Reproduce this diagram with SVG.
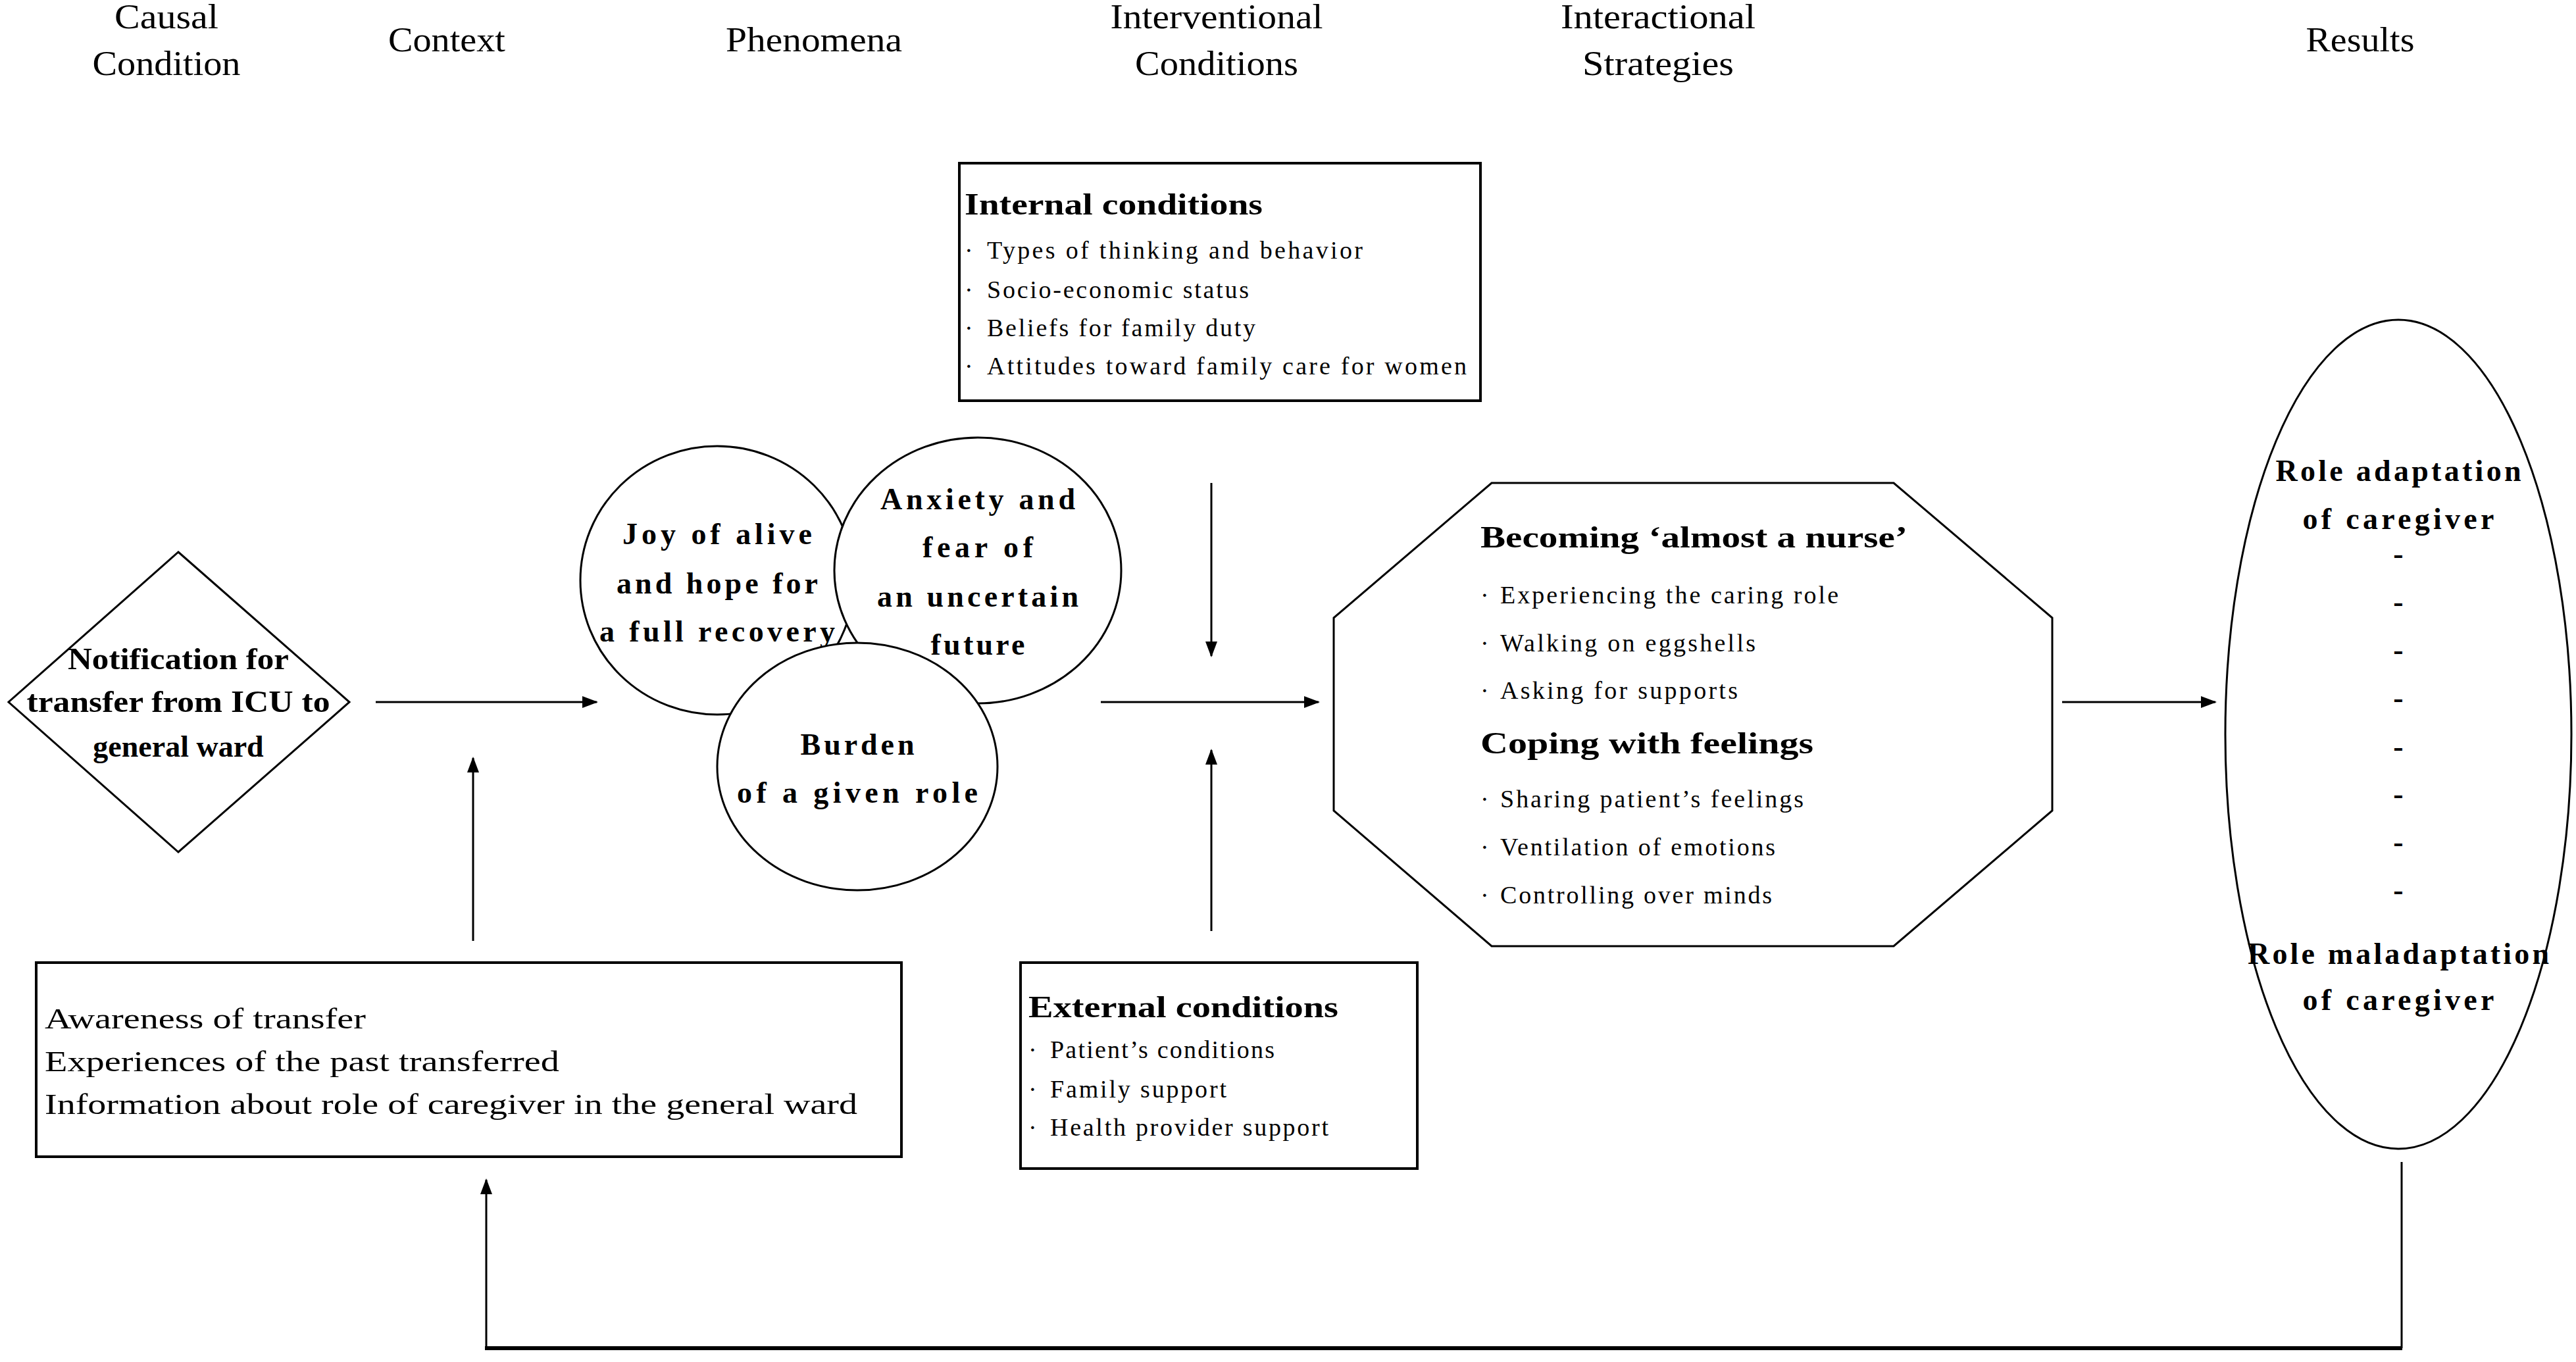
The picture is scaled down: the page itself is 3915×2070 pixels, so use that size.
<svg xmlns="http://www.w3.org/2000/svg" width="3915" height="2070" viewBox="0 0 3915 2070">
<style>
text{font-family:"Liberation Serif","DejaVu Serif",serif;fill:#000}
.hd{font-size:52px}
.ti{font-size:46px;font-weight:bold}
.it{font-size:38px}
.bd{font-size:46px;font-weight:bold}
.cx{font-size:44px}
.c{text-anchor:middle}
.shape{fill:#fff;stroke:#000;stroke-width:3}
.box{fill:#fff;stroke:#000;stroke-width:4}
.ln{stroke:#000;stroke-width:3;fill:none}
</style>
<defs>
<marker id="ah" markerUnits="userSpaceOnUse" markerWidth="24" markerHeight="18" refX="22" refY="9" orient="auto">
<path d="M0,0 L24,9 L0,18 Z" fill="#000"/>
</marker>
</defs>
<rect width="3915" height="2070" fill="#fff"/>

<g id="headers">
<text class="hd c" x="253" y="43" textLength="158" lengthAdjust="spacingAndGlyphs">Causal</text>
<text class="hd c" x="253" y="114" textLength="225" lengthAdjust="spacingAndGlyphs">Condition</text>
<text class="hd c" x="679" y="78" textLength="178" lengthAdjust="spacingAndGlyphs">Context</text>
<text class="hd c" x="1237" y="78" textLength="268" lengthAdjust="spacingAndGlyphs">Phenomena</text>
<text class="hd c" x="1849" y="43" textLength="323" lengthAdjust="spacingAndGlyphs">Interventional</text>
<text class="hd c" x="1849" y="114" textLength="248" lengthAdjust="spacingAndGlyphs">Conditions</text>
<text class="hd c" x="2520" y="43" textLength="296" lengthAdjust="spacingAndGlyphs">Interactional</text>
<text class="hd c" x="2520" y="114" textLength="230" lengthAdjust="spacingAndGlyphs">Strategies</text>
<text class="hd c" x="3587" y="78" textLength="165" lengthAdjust="spacingAndGlyphs">Results</text>
</g>

<g id="connectors">
<line class="ln" x1="571" y1="1067" x2="907" y2="1067" marker-end="url(#ah)"/>
<line class="ln" x1="719" y1="1430" x2="719" y2="1152" marker-end="url(#ah)"/>
<line class="ln" x1="1673" y1="1067" x2="2004" y2="1067" marker-end="url(#ah)"/>
<line class="ln" x1="1841" y1="734" x2="1841" y2="997" marker-end="url(#ah)"/>
<line class="ln" x1="1841" y1="1415" x2="1841" y2="1140" marker-end="url(#ah)"/>
<line class="ln" x1="3134" y1="1067" x2="3367" y2="1067" marker-end="url(#ah)"/>
<line class="ln" x1="3650" y1="1766" x2="3650" y2="2049"/>
<line x1="3651" y1="2049" x2="737" y2="2049" stroke="#000" stroke-width="6"/>
<line class="ln" x1="739" y1="2049" x2="739" y2="1793" marker-end="url(#ah)"/>
</g>

<g id="internal-conditions">
<rect class="box" x="1458" y="248" width="792" height="361"/>
<text class="ti" x="1466" y="326" textLength="453" lengthAdjust="spacingAndGlyphs">Internal conditions</text>
<text class="it" x="1466" y="393">·</text>
<text class="it" x="1500" y="393" textLength="571" lengthAdjust="spacing">Types of thinking and behavior</text>
<text class="it" x="1466" y="453">·</text>
<text class="it" x="1500" y="453" textLength="398" lengthAdjust="spacing">Socio-economic status</text>
<text class="it" x="1466" y="511">·</text>
<text class="it" x="1500" y="511" textLength="408" lengthAdjust="spacing">Beliefs for family duty</text>
<text class="it" x="1466" y="569">·</text>
<text class="it" x="1500" y="569" textLength="729" lengthAdjust="spacing">Attitudes toward family care for women</text>
</g>

<g id="causal-condition">
<polygon class="shape" points="271,839 531,1067 271,1295 13,1067"/>
<text class="bd c" x="271" y="1017" textLength="336" lengthAdjust="spacingAndGlyphs">Notification for</text>
<text class="bd c" x="271" y="1082" textLength="461" lengthAdjust="spacingAndGlyphs">transfer from ICU to</text>
<text class="bd c" x="271" y="1150">general ward</text>
</g>

<g id="context">
<rect class="box" x="55" y="1463" width="1315" height="295"/>
<text class="cx" x="68" y="1563" textLength="488" lengthAdjust="spacingAndGlyphs">Awareness of transfer</text>
<text class="cx" x="68" y="1628" textLength="782" lengthAdjust="spacingAndGlyphs">Experiences of the past transferred</text>
<text class="cx" x="68" y="1693" textLength="1235" lengthAdjust="spacingAndGlyphs">Information about role of caregiver in the general ward</text>
</g>

<g id="joy">
<ellipse class="shape" cx="1090" cy="882" rx="208" ry="204"/>
<text class="bd c" x="1090" y="827" textLength="288" lengthAdjust="spacing">Joy of alive</text>
<text class="bd c" x="1090" y="902" textLength="306" lengthAdjust="spacing">and hope for</text>
<text class="bd c" x="1090" y="975" textLength="358" lengthAdjust="spacing">a full recovery</text>
</g>

<g id="anxiety">
<ellipse class="shape" cx="1486" cy="867" rx="218" ry="202"/>
<text class="bd c" x="1486" y="774" textLength="296" lengthAdjust="spacing">Anxiety and</text>
<text class="bd c" x="1486" y="847" textLength="168" lengthAdjust="spacing">fear of</text>
<text class="bd c" x="1486" y="922" textLength="306" lengthAdjust="spacing">an uncertain</text>
<text class="bd c" x="1486" y="995" textLength="143" lengthAdjust="spacing">future</text>
</g>

<g id="burden">
<ellipse class="shape" cx="1303" cy="1165" rx="213" ry="188"/>
<text class="bd c" x="1303" y="1147" textLength="173" lengthAdjust="spacing">Burden</text>
<text class="bd c" x="1303" y="1220" textLength="366" lengthAdjust="spacing">of a given role</text>
</g>

<g id="external-conditions">
<rect class="box" x="1551" y="1463" width="603" height="313"/>
<text class="ti" x="1563" y="1546" textLength="471" lengthAdjust="spacingAndGlyphs">External conditions</text>
<text class="it" x="1563" y="1608">·</text>
<text class="it" x="1596" y="1608" textLength="341" lengthAdjust="spacing">Patient’s conditions</text>
<text class="it" x="1563" y="1668">·</text>
<text class="it" x="1596" y="1668" textLength="268" lengthAdjust="spacing">Family support</text>
<text class="it" x="1563" y="1726">·</text>
<text class="it" x="1596" y="1726" textLength="423" lengthAdjust="spacing">Health provider support</text>
</g>

<g id="strategies">
<polygon class="shape" points="2267,734 2878,734 3119,939 3119,1232 2878,1438 2267,1438 2027,1232 2027,939"/>
<text class="ti" x="2250" y="832" textLength="649" lengthAdjust="spacingAndGlyphs">Becoming ‘almost a nurse’</text>
<text class="it" x="2250" y="917">·</text>
<text class="it" x="2280" y="917" textLength="514" lengthAdjust="spacing">Experiencing the caring role</text>
<text class="it" x="2250" y="990">·</text>
<text class="it" x="2280" y="990" textLength="388" lengthAdjust="spacing">Walking on eggshells</text>
<text class="it" x="2250" y="1062">·</text>
<text class="it" x="2280" y="1062" textLength="361" lengthAdjust="spacing">Asking for supports</text>
<text class="ti" x="2250" y="1145" textLength="506" lengthAdjust="spacingAndGlyphs">Coping with feelings</text>
<text class="it" x="2250" y="1227">·</text>
<text class="it" x="2280" y="1227" textLength="461" lengthAdjust="spacing">Sharing patient’s feelings</text>
<text class="it" x="2250" y="1300">·</text>
<text class="it" x="2280" y="1300" textLength="418" lengthAdjust="spacing">Ventilation of emotions</text>
<text class="it" x="2250" y="1373">·</text>
<text class="it" x="2280" y="1373" textLength="413" lengthAdjust="spacing">Controlling over minds</text>
</g>

<g id="results">
<ellipse class="shape" cx="3645" cy="1116" rx="263" ry="630"/>
<text class="bd c" x="3645" y="731" textLength="373" lengthAdjust="spacing">Role adaptation</text>
<text class="bd c" x="3645" y="804" textLength="291" lengthAdjust="spacing">of caregiver</text>
<text class="bd c" x="3645" y="857">-</text>
<text class="bd c" x="3645" y="930">-</text>
<text class="bd c" x="3645" y="1003">-</text>
<text class="bd c" x="3645" y="1076">-</text>
<text class="bd c" x="3645" y="1150">-</text>
<text class="bd c" x="3645" y="1222">-</text>
<text class="bd c" x="3645" y="1295">-</text>
<text class="bd c" x="3645" y="1368">-</text>
<text class="bd c" x="3645" y="1465" textLength="458" lengthAdjust="spacing">Role maladaptation</text>
<text class="bd c" x="3645" y="1535" textLength="291" lengthAdjust="spacing">of caregiver</text>
</g>
</svg>
